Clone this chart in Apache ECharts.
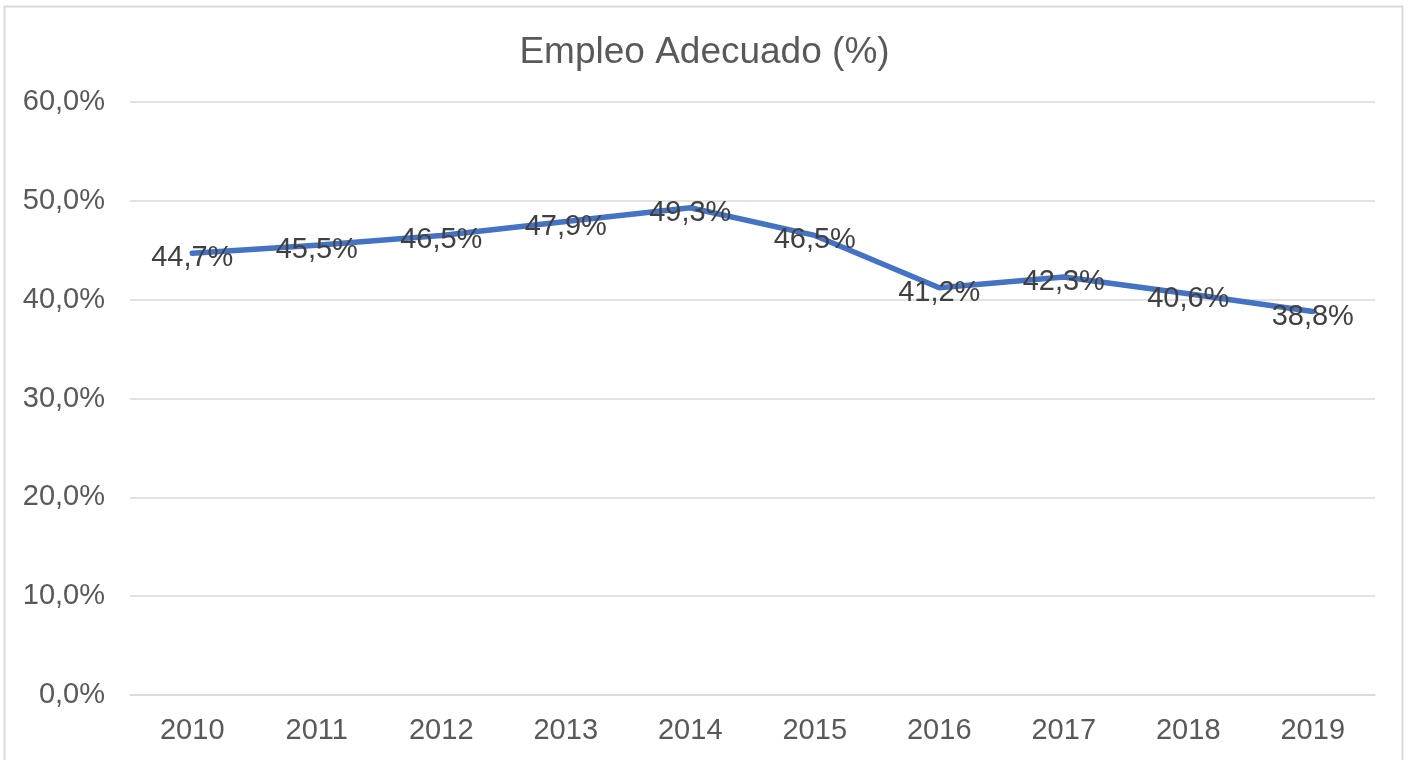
<!DOCTYPE html>
<html>
<head>
<meta charset="utf-8">
<script src="https://cdn.jsdelivr.net/npm/echarts@6/dist/echarts.min.js"></script>
<style>
html,body{margin:0;padding:0;background:#fff;}
#c{width:1409px;height:760px;}
</style>
</head>
<body>
<div id="c"></div>
<script>
const categories = ['2010','2011','2012','2013','2014','2015','2016','2017','2018','2019'];
const values = [44.7, 45.5, 46.5, 47.9, 49.3, 46.5, 41.2, 42.3, 40.6, 38.8];
const titleText = 'Empleo Adecuado (%)';

const fmt = v => v.toFixed(1).replace('.', ',') + '%';

const chart = echarts.init(document.getElementById('c'), null, {renderer: 'canvas'});
chart.setOption({
  animation: false,
  backgroundColor: '#fff',
  graphic: [{
    type: 'rect',
    shape: {x: 4.5, y: 6.5, width: 1398, height: 800},
    style: {fill: 'none', stroke: '#d9d9d9', lineWidth: 2},
    silent: true, z: -1
  }],
  title: {
    text: titleText,
    left: 'center',
    top: 29,
    textStyle: {fontFamily: 'Liberation Sans, Arial', fontSize: 37, fontWeight: 'normal', color: '#595959'}
  },
  grid: {left: 130, right: 34, top: 102, bottom: 65, containLabel: false},
  xAxis: {
    type: 'category',
    data: categories,
    boundaryGap: true,
    axisLine: {show: true, lineStyle: {color: '#d9d9d9', width: 1.5}},
    axisTick: {show: false},
    axisLabel: {fontFamily: 'Liberation Sans, Arial', fontSize: 29, color: '#595959', margin: 21}
  },
  yAxis: {
    type: 'value',
    min: 0, max: 60, interval: 10,
    axisLine: {show: false},
    axisTick: {show: false},
    splitLine: {lineStyle: {color: '#d9d9d9', width: 1.5}},
    axisLabel: {fontFamily: 'Liberation Sans, Arial', fontSize: 29, color: '#595959', margin: 25,
      verticalAlign: 'middle', lineHeight: 36, padding: [6, 0, 0, 0],
      formatter: v => fmt(v)}
  },
  series: [{
    type: 'line',
    data: values,
    symbol: 'circle',
    symbolSize: 2,
    showSymbol: true,
    itemStyle: {color: 'rgba(68,114,196,0)'},
    lineStyle: {color: '#4472C4', width: 5.5, cap: 'round', join: 'round'},
    label: {
      show: true,
      position: [1, 6],
      align: 'center',
      verticalAlign: 'middle',
      fontFamily: 'Liberation Sans, Arial',
      fontSize: 29,
      color: '#404040',
      formatter: p => fmt(p.value)
    },
    labelLayout: {hideOverlap: false}
  }]
});
</script>
</body>
</html>
